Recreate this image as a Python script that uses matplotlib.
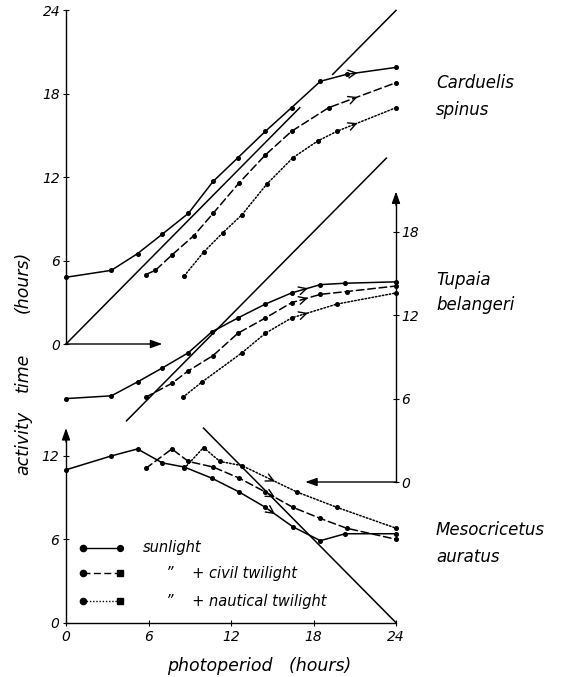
import numpy as np
import matplotlib
matplotlib.use("Agg")
import matplotlib.pyplot as plt

# ---------------- data (hours) ----------------
# Carduelis spinus (top panel)
top_sun_x = [0, 3.3, 5.2, 7.0, 8.9, 10.7, 12.5, 14.5, 16.4, 18.5, 20.4, 24]
top_sun_y = [4.8, 5.3, 6.5, 7.9, 9.4, 11.7, 13.4, 15.3, 17.0, 18.9, 19.4, 19.9]
top_civ_x = [5.8, 6.5, 7.7, 9.3, 10.7, 12.6, 14.5, 16.4, 19.1, 24]
top_civ_y = [5.0, 5.3, 6.4, 7.8, 9.4, 11.6, 13.6, 15.3, 17.0, 18.8]
top_nau_x = [8.6, 10.0, 11.4, 12.8, 14.6, 16.5, 18.3, 19.7, 24]
top_nau_y = [4.9, 6.6, 8.0, 9.3, 11.5, 13.4, 14.6, 15.3, 17.0]

# Tupaia belangeri (middle panel)
mid_sun_x = [0, 3.3, 5.2, 7.0, 8.9, 10.6, 12.5, 14.5, 16.4, 18.5, 20.3, 24]
mid_sun_y = [6.0, 6.2, 7.2, 8.2, 9.3, 10.8, 11.8, 12.8, 13.6, 14.2, 14.3, 14.4]
mid_civ_x = [5.8, 7.7, 8.9, 10.7, 12.5, 14.5, 16.4, 18.5, 20.4, 24]
mid_civ_y = [6.1, 7.1, 8.0, 9.1, 10.7, 11.8, 12.9, 13.5, 13.7, 14.1]
mid_nau_x = [8.5, 9.9, 12.8, 14.5, 16.4, 19.7, 24]
mid_nau_y = [6.1, 7.2, 9.3, 10.7, 11.8, 12.8, 13.6]

# Mesocricetus auratus (bottom panel)
bot_sun_x = [0, 3.3, 5.2, 7.0, 8.6, 10.6, 12.6, 14.5, 16.5, 18.5, 20.3, 24]
bot_sun_y = [11.0, 12.0, 12.5, 11.5, 11.2, 10.4, 9.4, 8.3, 6.9, 5.9, 6.4, 6.4]
bot_civ_x = [5.8, 7.7, 8.9, 10.7, 12.6, 14.5, 16.5, 18.5, 20.4, 24]
bot_civ_y = [11.1, 12.5, 11.6, 11.2, 10.4, 9.4, 8.3, 7.5, 6.8, 6.0]
bot_nau_x = [8.6, 10.0, 11.2, 12.8, 16.8, 19.7, 24]
bot_nau_y = [11.1, 12.6, 11.6, 11.3, 9.4, 8.3, 6.8]

# reference lines (activity = photoperiod, or 24 - photoperiod): x ranges
top_diag_ranges = [(0, 17.0), (19.4, 24.0)]
mid_diag_ranges = [(4.4, 23.3)]
bot_diag_ranges = [(10.0, 24.0)]

species = [("Carduelis", "spinus"), ("Tupaia", "belangeri"), ("Mesocricetus", "auratus")]
xticks = [0, 6, 12, 18, 24]
legend_labels = ["sunlight", "\u201d    + civil twilight", "\u201d    + nautical twilight"]

# ---------------- figure ----------------
W, H = 563, 677
fig = plt.figure(figsize=(W / 100, H / 100), dpi=100)
plt.rcParams["font.family"] = ["DejaVu Sans"]

px_per_h = 13.9
x0_px, x24_px = 66, 396
zero_px = {"bot": 622.7, "mid": 482.0, "top": 344.0}
top_px = 10.0
ax_left = x0_px / W
ax_w = (x24_px - x0_px) / W
ax_bottom = (H - zero_px["bot"]) / H
ax_h = (zero_px["bot"] - top_px) / H
span = (zero_px["bot"] - top_px) / px_per_h

def make_ax(key):
    ax = fig.add_axes([ax_left, ax_bottom, ax_w, ax_h])
    ax.patch.set_alpha(0)
    off = (zero_px["bot"] - zero_px[key]) / px_per_h
    ax.set_xlim(0, 24)
    ax.set_ylim(-off, span - off)
    for s in ax.spines.values():
        s.set_visible(False)
    ax.set_xticks([])
    ax.set_yticks([])
    return ax

axB = make_ax("bot")
axM = make_ax("mid")
axT = make_ax("top")

tick_font = dict(fontsize=10, fontstyle="italic")
lw = 1.1
ms = 2.6

def series(ax, x, y, ls):
    ax.plot(x, y, color="black", lw=lw, ls=ls, marker="o", ms=ms,
            clip_on=False, solid_capstyle="round", dash_capstyle="round")

def arrow_on(ax, x, y, xa):
    xs = np.asarray(x, float); ys = np.asarray(y, float)
    ya = np.interp(xa, xs, ys)
    xb = xa - 0.35
    yb = np.interp(xb, xs, ys)
    ax.annotate("", xy=(xa, ya), xytext=(xb, yb),
                arrowprops=dict(arrowstyle="->,head_length=0.55,head_width=0.28",
                                color="black", lw=1.0, shrinkA=0, shrinkB=0),
                annotation_clip=False)

dash = (0, (5, 2.5))
dot = (0, (1, 1.3))

panels = [
    (axT, (top_sun_x, top_sun_y), (top_civ_x, top_civ_y), (top_nau_x, top_nau_y), 21.2),
    (axM, (mid_sun_x, mid_sun_y), (mid_civ_x, mid_civ_y), (mid_nau_x, mid_nau_y), 17.6),
    (axB, (bot_sun_x, bot_sun_y), (bot_civ_x, bot_civ_y), (bot_nau_x, bot_nau_y), 15.2),
]
for ax, s, c, n, xa in panels:
    series(ax, *s, "-")
    series(ax, *c, dash)
    series(ax, *n, dot)
    for d in (s, c, n):
        arrow_on(ax, d[0], d[1], xa)

# diagonal reference lines
for a, b in top_diag_ranges:
    axT.plot([a, b], [a, b], color="black", lw=lw, clip_on=False)
for a, b in mid_diag_ranges:
    axM.plot([a, b], [a, b], color="black", lw=lw, clip_on=False)
for a, b in bot_diag_ranges:
    axB.plot([a, b], [24 - a, 24 - b], color="black", lw=lw, clip_on=False)

# ---------------- axes ----------------
# top panel: left axis 0..24, x stub arrow
axT.spines["left"].set_visible(True)
axT.spines["left"].set_bounds(0, 24)
axT.set_yticks([0, 6, 12, 18, 24])
axT.set_yticklabels([str(t) for t in [0, 6, 12, 18, 24]], **tick_font)
axT.tick_params(axis="y", direction="inout", length=4, width=0.8, pad=2)
axT.annotate("", xy=(7.0, 0), xytext=(0, 0),
             arrowprops=dict(arrowstyle="-|>,head_length=0.7,head_width=0.25",
                             color="black", lw=1.0, shrinkA=0, shrinkB=0),
             annotation_clip=False)

# middle panel: right axis with arrow, x stub pointing left
axM.spines["right"].set_visible(True)
axM.spines["right"].set_bounds(0, 20.0)
axM.yaxis.tick_right()
axM.set_yticks([0, 6, 12, 18])
axM.set_yticklabels([str(t) for t in [0, 6, 12, 18]], **tick_font)
axM.tick_params(axis="y", direction="inout", length=4, width=0.8, pad=2)
axM.annotate("", xy=(24, 20.9), xytext=(24, 19.9),
             arrowprops=dict(arrowstyle="-|>,head_length=0.7,head_width=0.25",
                             color="black", lw=1.0, shrinkA=0, shrinkB=0),
             annotation_clip=False)
axM.annotate("", xy=(17.4, 0), xytext=(24, 0),
             arrowprops=dict(arrowstyle="-|>,head_length=0.7,head_width=0.25",
                             color="black", lw=1.0, shrinkA=0, shrinkB=0),
             annotation_clip=False)

# bottom panel: left axis with arrow, full x axis
axB.spines["left"].set_visible(True)
axB.spines["left"].set_bounds(0, 13.2)
axB.spines["bottom"].set_visible(True)
axB.spines["bottom"].set_bounds(0, 24)
axB.set_yticks([0, 6, 12])
axB.set_yticklabels([str(t) for t in [0, 6, 12]], **tick_font)
axB.set_xticks(xticks)
axB.set_xticklabels([str(t) for t in xticks], **tick_font)
axB.tick_params(axis="both", direction="inout", length=4, width=0.8, pad=3)
axB.annotate("", xy=(0, 14.0), xytext=(0, 13.0),
             arrowprops=dict(arrowstyle="-|>,head_length=0.7,head_width=0.25",
                             color="black", lw=1.0, shrinkA=0, shrinkB=0),
             annotation_clip=False)
for ax in (axT, axM, axB):
    for s in ax.spines.values():
        s.set_linewidth(1.0)

# ---------------- legend (drawn inside bottom panel) ----------------
leg_styles = ["-", dash, dot]
leg_end_markers = ["o", "s", "s"]
leg_y = [5.4, 3.55, 1.55]
for ls, em, yy, lab in zip(leg_styles, leg_end_markers, leg_y, legend_labels):
    axB.plot([1.2, 3.9], [yy, yy], color="black", lw=1.0, ls=ls)
    axB.plot([1.2], [yy], "o", color="black", ms=4.5)
    axB.plot([3.9], [yy], em, color="black", ms=4.2)
    if lab == "sunlight":
        axB.text(5.6, yy, lab, fontsize=10.5, fontstyle="italic", va="center")
    else:
        axB.text(7.3, yy, lab, fontsize=10.5, fontstyle="italic", va="center")

# ---------------- labels ----------------
name_font = dict(fontsize=12, fontstyle="italic", va="center", ha="left")
name_pos = [(83, 110), (280, 305), (530, 557)]
for (g, sp), (y1, y2) in zip(species, name_pos):
    fig.text(436 / W, 1 - y1 / H, g, **name_font)
    fig.text(436 / W, 1 - y2 / H, sp, **name_font)

lab_font = dict(fontsize=12.5, fontstyle="italic", rotation=90, ha="center", va="center")
fig.text(23 / W, 1 - 443 / H, "activity", **lab_font)
fig.text(23 / W, 1 - 372 / H, "time", **lab_font)
fig.text(23 / W, 1 - 282 / H, "(hours)", **lab_font)
fig.text(259 / W, 1 - 666 / H, "photoperiod   (hours)", fontsize=12.5,
         fontstyle="italic", ha="center", va="center")

fig.savefig("out.png", dpi=100)
